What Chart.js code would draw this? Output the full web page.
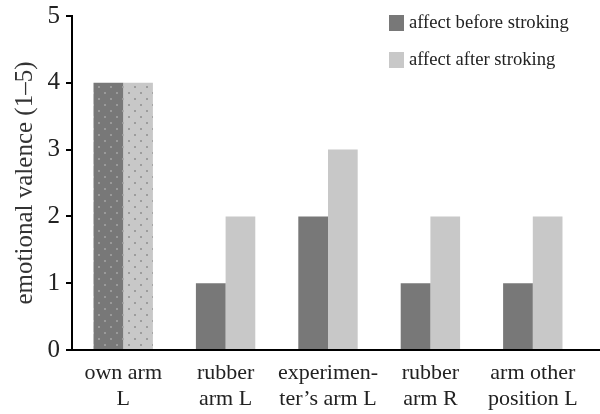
<!DOCTYPE html>
<html>
<head>
<meta charset="utf-8">
<script src="https://cdn.jsdelivr.net/npm/chart.js@4"></script>
<style>
  html, body { margin: 0; padding: 0; background: #fff; }
</style>
</head>
<body>
<canvas id="chart" width="600" height="414"></canvas>
<script>
const categories = [
  ["own arm", "L"],
  ["rubber", "arm L"],
  ["experimen-", "ter\u2019s arm L"],
  ["rubber", "arm R"],
  ["arm other", "position L"],
];
const beforeValues = [4, 1, 2, 1, 1];
const afterValues = [4, 2, 3, 2, 2];
const seriesNames = ["affect before stroking", "affect after stroking"];
const yTitle = "emotional valence (1\u20135)";

const DARK = "#787878";
const LIGHT = "#c8c8c8";
const FONT = "'Liberation Serif', 'DejaVu Serif', serif";

// dotted fill used for the "own arm" bars
function dotPattern(base, dot) {
  const c = document.createElement("canvas");
  c.width = 12;
  c.height = 12;
  const g = c.getContext("2d");
  g.fillStyle = base;
  g.fillRect(0, 0, 12, 12);
  g.fillStyle = dot;
  g.fillRect(2, 2, 2, 2);
  g.fillRect(8, 8, 2, 2);
  return g.createPattern(c, "repeat");
}

const ctx = document.getElementById("chart").getContext("2d");
const darkFill = beforeValues.map((v, i) => (i === 0 ? dotPattern(DARK, "#9a9a9a") : DARK));
const lightFill = afterValues.map((v, i) => (i === 0 ? dotPattern(LIGHT, "#9c9c9c") : LIGHT));

const legendPlugin = {
  id: "sideLegend",
  afterDraw(chart) {
    const g = chart.ctx;
    const x = chart.chartArea.right - 195;
    const rows = [
      { y: 15, color: DARK, text: seriesNames[0] },
      { y: 52, color: LIGHT, text: seriesNames[1] },
    ];
    g.save();
    g.font = "18.6px " + FONT;
    g.textBaseline = "middle";
    rows.forEach((r) => {
      g.fillStyle = r.color;
      g.fillRect(x, r.y, 15, 16);
      g.fillStyle = "#222";
      g.fillText(r.text, x + 20, r.y + 8);
    });
    g.restore();
  },
};

// the x axis line runs on to the right edge of the figure
const axisTail = {
  id: "axisTail",
  afterDraw(chart) {
    const g = chart.ctx;
    const y = chart.chartArea.bottom;
    g.save();
    g.strokeStyle = "#000";
    g.lineWidth = 2;
    g.beginPath();
    g.moveTo(chart.chartArea.right - 1, y);
    g.lineTo(chart.width, y);
    g.stroke();
    g.restore();
  },
};

new Chart(ctx, {
  type: "bar",
  data: {
    labels: categories,
    datasets: [
      { label: seriesNames[0], data: beforeValues, backgroundColor: darkFill },
      { label: seriesNames[1], data: afterValues, backgroundColor: lightFill },
    ],
  },
  options: {
    responsive: false,
    animation: false,
    layout: { padding: { left: 0, right: 16, top: 16, bottom: 0 } },
    datasets: {
      bar: { categoryPercentage: 0.58, barPercentage: 1.0 },
    },
    scales: {
      x: {
        offset: true,
        grid: { display: false, drawTicks: false },
        border: { color: "#000", width: 2 },
        ticks: {
          color: "#222",
          font: { family: FONT, size: 22 },
          padding: 10,
          maxRotation: 0,
          autoSkip: false,
        },
        afterFit: (s) => { s.height = 64; },
      },
      y: {
        min: 0,
        max: 5,
        grid: {
          drawOnChartArea: false,
          drawTicks: true,
          tickLength: 6,
          color: "#000",
          lineWidth: 2,
        },
        border: { color: "#000", width: 2 },
        ticks: {
          stepSize: 1,
          color: "#222",
          font: { family: FONT, size: 25, lineHeight: 0.8 },
          padding: 6,
        },
        title: {
          display: true,
          text: yTitle,
          color: "#333",
          font: { family: FONT, size: 25 },
          padding: { top: 10, bottom: 0 },
        },
        afterFit: (s) => { s.width = 72; },
      },
    },
    plugins: {
      legend: { display: false },
      tooltip: { enabled: false },
    },
  },
  plugins: [legendPlugin, axisTail],
});
</script>
</body>
</html>
